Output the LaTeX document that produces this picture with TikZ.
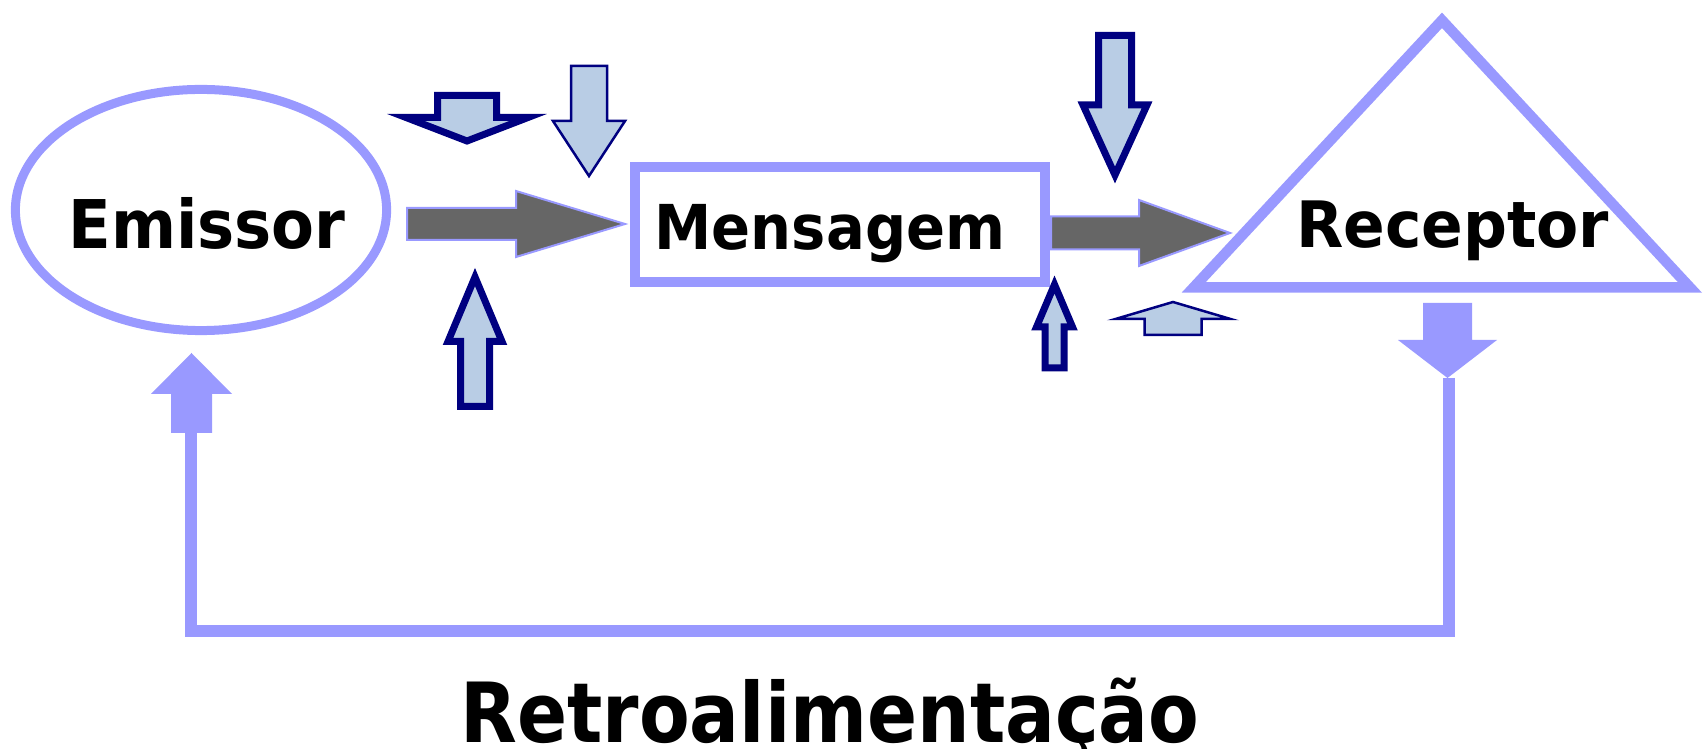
\documentclass[tikz,border=0pt]{standalone}
\usepackage{fontspec}
\usepackage{tikz}
\usetikzlibrary{arrows,shapes,positioning}
\newfontfamily\lblfont{DejaVu Sans}[FakeStretch=0.89]
\newfontfamily\boxfont{DejaVu Sans}[FakeStretch=0.93]
\newfontfamily\rcpfont{DejaVu Sans}[FakeStretch=0.96]
\definecolor{fblilac}{RGB}{153,153,255}
\definecolor{fbgray}{RGB}{102,102,102}
\definecolor{fbnavy}{RGB}{0,0,128}
\definecolor{fbsky}{RGB}{185,205,229}
\tikzstyle{thickarr} = [draw=fbnavy, fill=fbsky, line width=0.07cm]
\tikzstyle{thinarr} = [draw=fbnavy, fill=fbsky, line width=0.025cm]
\tikzstyle{grayarr} = [draw=fblilac, fill=fbgray, line width=0.02cm]
\tikzstyle{fbarr} = [fill=fblilac]
\tikzstyle{lbl} = [anchor=base, inner sep=0pt]
% block arrow: length / shaft width / head width / head length
\tikzset{pics/blockarrow/.style args={#1/#2/#3/#4}{code={
  \path[pic actions] (0,-#2/2) -- (#1-#4,-#2/2) -- (#1-#4,-#3/2) -- (#1,0)
    -- (#1-#4,#3/2) -- (#1-#4,#2/2) -- (0,#2/2) -- cycle;
}}}

\begin{document}
\begin{tikzpicture}[x=0.01cm, y=-0.01cm]
\useasboundingbox (0,0) rectangle (1705,749);

% Feedback loop
\coordinate (fbR) at (1449,378);
\coordinate (fbL) at (191,433);
\coordinate (fbB) at (0,631);
\draw[fblilac, line width=0.12cm] (fbR) -- (fbR |- fbB) -- (fbL |- fbB) -- (fbL);
\pic[fbarr, rotate=90] at (191.5,433) {blockarrow=80/41/81/41};
\pic[fbarr, rotate=-90] at (1447.5,303) {blockarrow=75/49/99/38};

% Shapes
\node[draw=fblilac, line width=0.09cm, ellipse, inner sep=0pt,
  minimum width=3.71cm, minimum height=2.41cm] (emissor) at (201,210) {};
\node[draw=fblilac, line width=0.1cm, inner sep=0pt,
  minimum width=4.1cm, minimum height=1.15cm] (mensagem) at (840,224.5) {};
\coordinate (rcpL) at (1193.6,287.5);
\coordinate (rcpT) at (1442,20.3);
\coordinate (rcpR) at (1690,287.5);
\draw[fblilac, line width=0.105cm] (rcpL) -- (rcpT) -- (rcpR) -- cycle;

% Labels
\node[lbl, font=\boxfont\bfseries\fontsize{19.1}{23}\selectfont] (emissorlbl) at (207,249) {Emissor};
\node[lbl, font=\boxfont\bfseries\fontsize{17.6}{21}\selectfont] (mensagemlbl) at (830,250) {Mensagem};
\node[lbl, font=\rcpfont\bfseries\fontsize{18.2}{22}\selectfont] (receptorlbl) at (1452.5,248) {Receptor};
\node[lbl, font=\lblfont\bfseries\fontsize{23.6}{28}\selectfont] (retrolbl) at (830,742.7) {Retroalimentação};

% Message flow
\pic[grayarr] at (407,224) {blockarrow=218/32/66/109};
\pic[grayarr] at (1051,233) {blockarrow=179/33/66/91};

% Noise
\pic[thickarr, rotate=-90] at (467,95.5) {blockarrow=45.5/59/122/23.5};
\pic[thinarr, rotate=-90] at (589,66) {blockarrow=110/36/72/55};
\pic[thickarr, rotate=90] at (475,406.5) {blockarrow=129.5/29/54/64.5};
\pic[thickarr, rotate=-90] at (1115,35.5) {blockarrow=139.5/33/64/70};
\pic[thickarr, rotate=90] at (1054.5,368) {blockarrow=83.5/19/36/42.5};
\pic[thinarr, rotate=90] at (1173,335) {blockarrow=33/57/115/17};
\end{tikzpicture}
\end{document}
